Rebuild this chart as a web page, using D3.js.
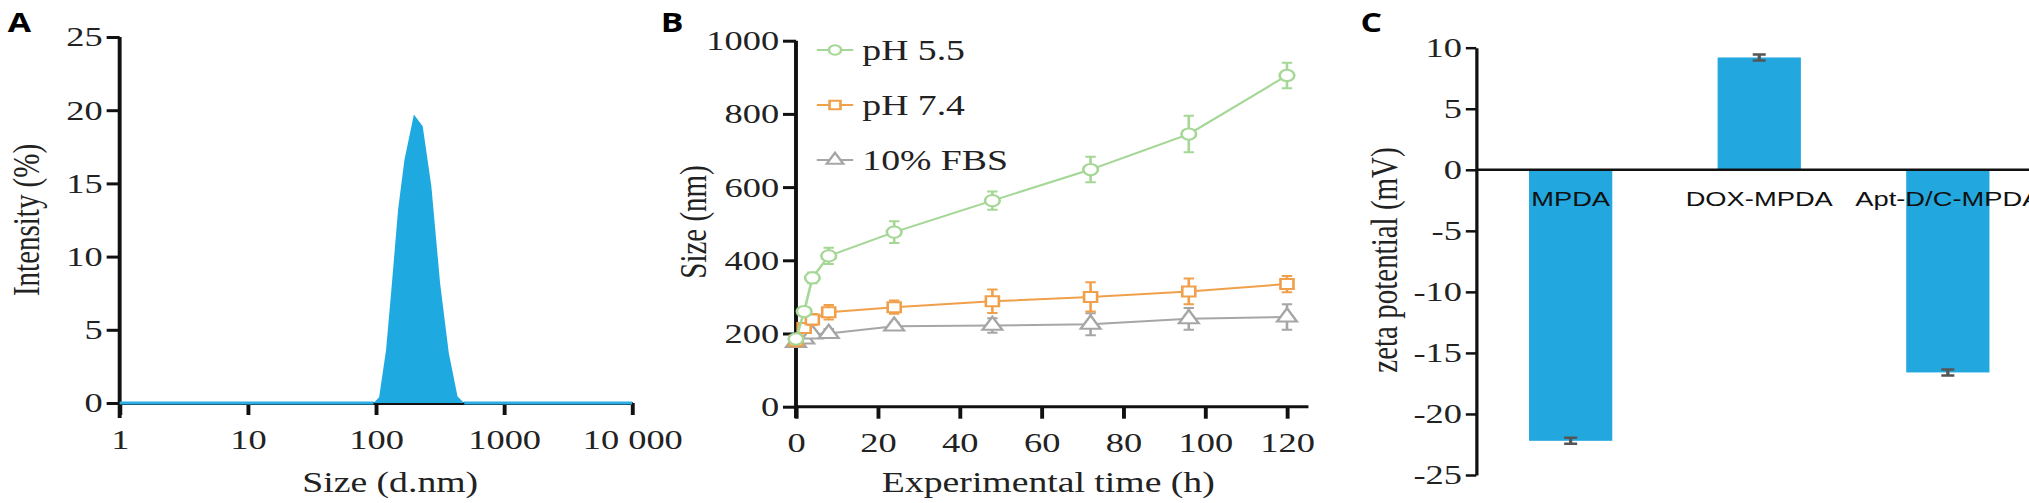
<!DOCTYPE html>
<html lang="en">
<head>
<meta charset="utf-8">
<script src="https://d3js.org/d3.v7.min.js"></script>
<style>
  body { margin: 0; background: #fff; }
  svg { display: block; }
  .lab { font-family: "Liberation Serif", serif; font-size: 29px; fill: #222; }
  .panel { font-family: "Open Sans", sans-serif; font-weight: bold; font-size: 26px; }
</style>
</head>
<body>
<div id="container"></div>
<script>
// panel A: size distribution
var distSize = [1, 96, 106, 120, 132, 149, 167, 198, 232, 271, 317, 371, 434, 489, 10000];
var distInt = [0, 0, 0.4, 3.6, 7.7, 13.2, 16.6, 19.7, 18.9, 14.8, 8.2, 3.4, 0.45, 0, 0];

// panel B: stability
var times = [0, 2, 4, 8, 24, 48, 72, 96, 120];
var ph55 = [185, 260, 352, 412, 477, 563, 648, 745, 905];
var ph55Err = [10, 10, 15, 22, 30, 25, 35, 50, 35];
var ph74 = [180, 215, 238, 258, 272, 288, 300, 315, 335];
var ph74Err = [15, 10, 15, 20, 18, 32, 40, 35, 22];
var fbs = [175, 185, 198, 200, 220, 222, 225, 240, 245];
var fbsErr = [8, 8, 8, 12, 10, 20, 30, 30, 35];
var seriesNames = ["pH 5.5", "pH 7.4", "10% FBS"];

// panel C: zeta potential
var samples = ["MPDA", "DOX-MPDA", "Apt-D/C-MPDA"];
var zeta = [-22.2, 9.2, -16.6];
var zetaErr = [0.2, 0.15, 0.15];

var W = 1560, H = 503;
var svg = d3.select("#container").append("svg")
  .attr("width", 2029).attr("height", 503)
  .attr("viewBox", "0 0 " + W + " " + H)
  .attr("preserveAspectRatio", "none");

function styleAxis(g) {
  g.selectAll("path,line").attr("stroke", "#111").attr("stroke-width", 3);
  g.attr("font-family", "Liberation Serif, serif").attr("font-size", 28);
  g.selectAll("text").attr("fill", "#222");
}
var plain = d => String(d);

// ---------- A ----------
var xA = d3.scaleLog().domain([1, 10000]).range([92, 486]);
var yA = d3.scaleLinear().domain([0, 25]).range([403, 37]);
svg.append("g").attr("transform", "translate(0,403)")
  .call(d3.axisBottom(xA).tickValues([1, 10, 100, 1000, 10000])
    .tickFormat(d => d === 10000 ? "10 000" : String(d)).tickSize(12).tickSizeOuter(0))
  .call(styleAxis).call(g => g.selectAll("text").attr("dy", "1.1em"));
svg.append("g").attr("transform", "translate(92,0)")
  .call(d3.axisLeft(yA).tickValues([0, 5, 10, 15, 20, 25]).tickFormat(plain).tickSize(10).tickSizeOuter(0))
  .call(styleAxis).call(g => g.select(".domain").attr("d", "M0,37V418"));
var distData = distSize.map((s, i) => [s, distInt[i]]);
svg.append("path").datum(distData)
  .attr("fill", "#1eaae0")
  .attr("d", d3.area().x(d => xA(d[0])).y0(yA(0)).y1(d => yA(d[1])));
svg.append("path").datum([[1, 0], [96, 0]]).attr("stroke", "#2aaee6").attr("stroke-width", 3)
  .attr("d", d3.line().x(d => xA(d[0])).y(d => yA(d[1])));
svg.append("path").datum([[489, 0], [10000, 0]]).attr("stroke", "#2aaee6").attr("stroke-width", 3)
  .attr("d", d3.line().x(d => xA(d[0])).y(d => yA(d[1])));
svg.append("text").attr("class", "lab").attr("text-anchor", "middle")
  .attr("transform", "translate(20,220) rotate(-90)").attr("dy", "0.35em").text("Intensity (%)");
svg.append("text").attr("class", "lab").attr("text-anchor", "middle")
  .attr("x", 300).attr("y", 492).text("Size (d.nm)");
svg.append("text").attr("class", "panel").attr("x", 6).attr("y", 32).text("A");

// ---------- B ----------
var xB = d3.scaleLinear().domain([0, 120]).range([612, 989.5]);
var yB = d3.scaleLinear().domain([0, 1000]).range([406.7, 40.7]);
svg.append("g").attr("transform", "translate(0,406.7)")
  .call(d3.axisBottom(xB).tickValues([0, 20, 40, 60, 80, 100, 120]).tickFormat(plain).tickSize(12).tickSizeOuter(0))
  .call(styleAxis).call(g => g.select(".domain").attr("d", "M612,0H1006"))
  .call(g => g.selectAll("text").attr("dy", "1.1em"));
svg.append("g").attr("transform", "translate(612,0)")
  .call(d3.axisLeft(yB).tickValues([0, 200, 400, 600, 800, 1000]).tickFormat(plain).tickSize(10).tickSizeOuter(0))
  .call(styleAxis).call(g => g.select(".domain").attr("d", "M0,40.7V418"));
var series = [
  { name: seriesNames[0], v: ph55, e: ph55Err, c: "#a5d796", sym: d3.symbolCircle },
  { name: seriesNames[1], v: ph74, e: ph74Err, c: "#f0a04b", sym: d3.symbolSquare },
  { name: seriesNames[2], v: fbs, e: fbsErr, c: "#a6a6a6", sym: d3.symbolTriangle }
];
series.slice().reverse().forEach(function (s) {
  var g = svg.append("g");
  var pts = times.map((t, i) => ({ t: t, v: s.v[i], e: s.e[i] }));
  g.append("path").datum(pts).attr("fill", "none").attr("stroke", s.c).attr("stroke-width", 2)
    .attr("d", d3.line().x(d => xB(d.t)).y(d => yB(d.v)));
  pts.forEach(function (d) {
    var x = xB(d.t);
    g.append("path").attr("stroke", s.c).attr("stroke-width", 2).attr("fill", "none")
      .attr("d", "M" + x + "," + yB(d.v + d.e) + "V" + yB(d.v - d.e) +
        "M" + (x - 4) + "," + yB(d.v + d.e) + "h8M" + (x - 4) + "," + yB(d.v - d.e) + "h8");
    g.append("path").attr("transform", "translate(" + x + "," + yB(d.v) + ")")
      .attr("d", d3.symbol().type(s.sym).size(100)).attr("fill", "#fff")
      .attr("stroke", s.c).attr("stroke-width", 2);
  });
});
series.forEach(function (s, i) {
  var y = 50 + i * 55;
  svg.append("line").attr("x1", 628).attr("x2", 656).attr("y1", y).attr("y2", y)
    .attr("stroke", s.c).attr("stroke-width", 2);
  svg.append("path").attr("transform", "translate(642," + y + ")")
    .attr("d", d3.symbol().type(s.sym).size(70)).attr("fill", "#fff")
    .attr("stroke", s.c).attr("stroke-width", 2);
  svg.append("text").attr("class", "lab").attr("x", 663).attr("y", y).attr("dy", "0.35em").text(s.name);
});
svg.append("text").attr("class", "lab").attr("text-anchor", "middle")
  .attr("transform", "translate(533,222) rotate(-90)").attr("dy", "0.35em").text("Size (nm)");
svg.append("text").attr("class", "lab").attr("text-anchor", "middle")
  .attr("x", 806).attr("y", 492).text("Experimental time (h)");
svg.append("text").attr("class", "panel").attr("x", 508).attr("y", 32).text("B");

// ---------- C ----------
var xC = d3.scaleBand().domain(samples).range([1135.1, 1570.1]).paddingInner(0.5586).paddingOuter(0.2793);
var yC = d3.scaleLinear().domain([-25, 10]).range([475, 47.7]);
svg.append("g").attr("transform", "translate(1135,0)")
  .call(d3.axisLeft(yC).tickValues([-25, -20, -15, -10, -5, 0, 5, 10]).tickFormat(plain).tickSize(8).tickSizeOuter(0))
  .call(styleAxis).call(g => g.selectAll("path,line").attr("stroke-width", 2.5));
svg.selectAll(".bar").data(samples).enter().append("rect")
  .attr("x", d => xC(d)).attr("width", xC.bandwidth())
  .attr("y", (d, i) => yC(Math.max(0, zeta[i])))
  .attr("height", (d, i) => Math.abs(yC(zeta[i]) - yC(0)))
  .attr("fill", "#22a8df");
samples.forEach(function (d, i) {
  var x = xC(d) + xC.bandwidth() / 2;
  var e = Math.max(zetaErr[i], 0.25);
  svg.append("path").attr("stroke", "#555").attr("stroke-width", 2.5).attr("fill", "none")
    .attr("d", "M" + x + "," + yC(zeta[i] + e) + "V" + yC(zeta[i] - e) +
      "M" + (x - 5) + "," + yC(zeta[i] + e) + "h10M" + (x - 5) + "," + yC(zeta[i] - e) + "h10");
  svg.append("text").attr("x", x).attr("y", 199).attr("dy", "0.35em")
    .attr("text-anchor", "middle").style("font-family", "Liberation Sans, Arial, sans-serif")
    .style("font-size", "21px").attr("fill", "#111").text(d);
});
svg.append("line").attr("x1", 1135).attr("x2", W).attr("y1", yC(0)).attr("y2", yC(0))
  .attr("stroke", "#111").attr("stroke-width", 2.5);
svg.append("text").attr("class", "lab").attr("text-anchor", "middle")
  .attr("transform", "translate(1064,260) rotate(-90)").attr("dy", "0.35em").text("zeta potential (mV)");
svg.append("text").attr("class", "panel").attr("x", 1046).attr("y", 32).text("C");
</script>
</body>
</html>
